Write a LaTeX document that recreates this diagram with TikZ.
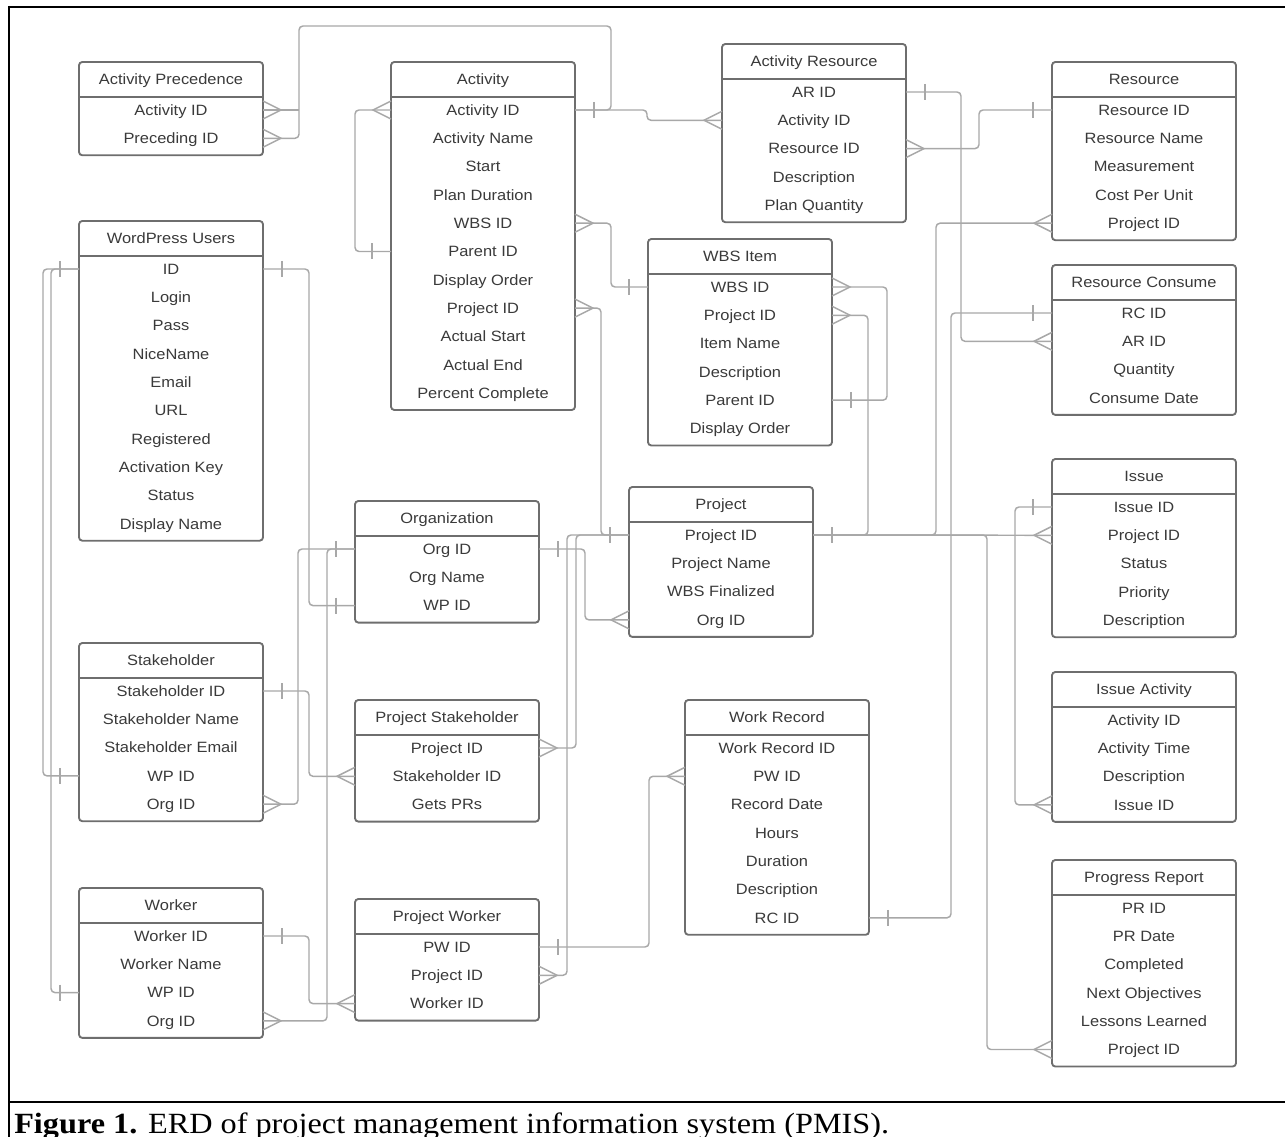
\documentclass[tikz,border=0pt]{standalone}
\usepackage{fontspec}
\setmainfont{Liberation Serif}[FakeStretch=1.1]
\newfontfamily\erdfont{Liberation Sans}[FakeStretch=1.1]
\definecolor{boxgray}{HTML}{6E6E6E}
\definecolor{linkgray}{HTML}{A8A8A8}
\definecolor{textgray}{HTML}{3A3A3A}
\usepackage{tikz}

\begin{document}
\begin{tikzpicture}[x = 0.75pt, y = -0.75pt,
    box/.style = {draw = boxgray, line width = 1.4pt, fill = white, rounded corners = 2.5pt},
    rule/.style = {draw = boxgray, line width = 1.2pt},
    field/.style = {text = textgray, font = \erdfont\fontsize{11.2}{13}\selectfont, inner sep = 0pt, text height = 8pt, text depth = 0pt},
    link/.style = {draw = linkgray, line width = 1.1pt, rounded corners = 3pt},
    crow e/.pic = {\draw[link, sharp corners] (0, -9) -- (18, 0) -- (0, 9);},
    crow w/.pic = {\draw[link, sharp corners] (0, -9) -- (-18, 0) -- (0, 9);},
    bar e/.pic = {\draw[link] (19, -8) -- (19, 8);},
    bar w/.pic = {\draw[link] (-19, -8) -- (-19, 8);}]
  \useasboundingbox (0, 0) rectangle (1285, 1137);

  \foreach \nm/\x/\y/\k/\title/\rows in {
      ap/79/62/2/Activity Precedence/{Activity ID,Preceding ID},
      act/391/62/11/Activity/{Activity ID,Activity Name,Start,Plan Duration,WBS ID,Parent ID,Display Order,Project ID,Actual Start,Actual End,Percent Complete},
      ar/722/44/5/Activity Resource/{AR ID,Activity ID,Resource ID,Description,Plan Quantity},
      res/1052/62/5/Resource/{Resource ID,Resource Name,Measurement,Cost Per Unit,Project ID},
      wpu/79/221/10/WordPress Users/{ID,Login,Pass,NiceName,Email,URL,Registered,Activation Key,Status,Display Name},
      wbs/648/239/6/WBS Item/{WBS ID,Project ID,Item Name,Description,Parent ID,Display Order},
      rc/1052/265/4/Resource Consume/{RC ID,AR ID,Quantity,Consume Date},
      iss/1052/459/5/Issue/{Issue ID,Project ID,Status,Priority,Description},
      prj/629/487/4/Project/{Project ID,Project Name,WBS Finalized,Org ID},
      org/355/501/3/Organization/{Org ID,Org Name,WP ID},
      stk/79/643/5/Stakeholder/{Stakeholder ID,Stakeholder Name,Stakeholder Email,WP ID,Org ID},
      ps/355/700/3/Project Stakeholder/{Project ID,Stakeholder ID,Gets PRs},
      wr/685/700/7/Work Record/{Work Record ID,PW ID,Record Date,Hours,Duration,Description,RC ID},
      ia/1052/672/4/Issue Activity/{Activity ID,Activity Time,Description,Issue ID},
      pr/1052/860/6/Progress Report/{PR ID,PR Date,Completed,Next Objectives,Lessons Learned,Project ID},
      wkr/79/888/4/Worker/{Worker ID,Worker Name,WP ID,Org ID},
      pw/355/899/3/Project Worker/{PW ID,Project ID,Worker ID}%
    } {
    \draw[box] (\x, \y) rectangle ++(184, {65 + 28.3 * (\k - 1)});
    \draw[rule] (\x, \y + 35) -- ++(184, 0);
    \node[field] (\nm) at (\x + 92, \y + 17) {\title};
    \foreach \r [count = \i] in \rows {
      \node[field] (\nm-\i) at (\x + 92, {\y + 48 + 28.3 * (\i - 1)}) {\r};
      \coordinate (\nm-\i-w) at (\x, {\y + 48 + 28.3 * (\i - 1)});
      \coordinate (\nm-\i-e) at (\x + 184, {\y + 48 + 28.3 * (\i - 1)});
    }
  }

  \draw[link] (ap-1-e) -- ++(36, 0);
  \draw[link] (ap-2-e) -- ++(36, 0) |- (611, 26) |- (act-1-e);
  \draw[link] (act-1-e) -- ++(72, 0) |- (ar-2-w);
  \draw[link] (act-1-w) -- ++(-36, 0) |- (act-6-w);
  \draw[link] (act-5-e) -- ++(36, 0) |- (wbs-1-w);
  \draw[link] (act-8-e) -- ++(26, 0) |- (prj-1-w);
  \draw[link] (ar-1-e) -- ++(55, 0) |- (rc-2-w);
  \draw[link] (ar-3-e) -- ++(73, 0) |- (res-1-w);
  \draw[link] (res-5-w) -- ++(-116, 0) |- (prj-1-e);
  \draw[link] (wbs-1-e) -- ++(55, 0) |- (wbs-5-e);
  \draw[link] (wbs-2-e) -- ++(36, 0) |- (prj-1-e);
  \draw[link] (rc-1-w) -- ++(-101, 0) |- (wr-7-e);
  \draw[link] (iss-2-w) -- (prj-1-e);
  \draw[link] (iss-1-w) -- ++(-37, 0) |- (ia-4-w);
  \draw[link] (pr-6-w) -- ++(-65, 0) |- (prj-1-e);
  \draw[link] (wpu-1-e) -- ++(46, 0) |- (org-3-w);
  \draw[link] (wpu-1-w) -- ++(-36, 0) |- (stk-4-w);
  \draw[link] (wpu-1-w) -- ++(-28, 0) |- (wkr-3-w);
  \draw[link] (org-1-w) -- ++(-57, 0) |- (stk-5-e);
  \draw[link] (org-1-w) -- ++(-28, 0) |- (wkr-4-e);
  \draw[link] (org-1-e) -- ++(46, 0) |- (prj-4-w);
  \draw[link] (stk-1-e) -- ++(46, 0) |- (ps-2-w);
  \draw[link] (ps-1-e) -- ++(37, 0) |- (prj-1-w);
  \draw[link] (pw-2-e) -- ++(28, 0) |- (prj-1-w);
  \draw[link] (wkr-1-e) -- ++(46, 0) |- (pw-3-w);
  \draw[link] (pw-1-e) -- ++(110, 0) |- (wr-2-w);

  \foreach \p in {ap-1-e, ap-2-e, act-5-e, act-8-e, ar-3-e, wbs-1-e, wbs-2-e, stk-5-e, wkr-4-e, ps-1-e, pw-2-e}
    \pic at (\p) {crow e};
  \foreach \p in {act-1-w, ar-2-w, rc-2-w, res-5-w, iss-2-w, ia-4-w, pr-6-w, prj-4-w, ps-2-w, pw-3-w, wr-2-w}
    \pic at (\p) {crow w};
  \foreach \p in {act-1-e, ar-1-e, prj-1-e, wbs-5-e, wr-7-e, wpu-1-e, org-1-e, stk-1-e, wkr-1-e, pw-1-e}
    \pic at (\p) {bar e};
  \foreach \p in {act-6-w, wbs-1-w, prj-1-w, res-1-w, rc-1-w, iss-1-w, wpu-1-w, org-3-w, stk-4-w, wkr-3-w, org-1-w}
    \pic at (\p) {bar w};

  \draw[line width = 1pt] (9, 7) -- (1285, 7);
  \draw[line width = 2pt] (9, 6) -- (9, 1137);
  \draw[line width = 1.5pt] (9, 1102) -- (1285, 1102);
  \node[anchor = base west, inner sep = 0pt, font = \fontsize{22}{26}\selectfont] (caption) at (14, 1133)
    {\textbf{Figure 1.} ERD of project management information system (PMIS).};
\end{tikzpicture}
\end{document}
